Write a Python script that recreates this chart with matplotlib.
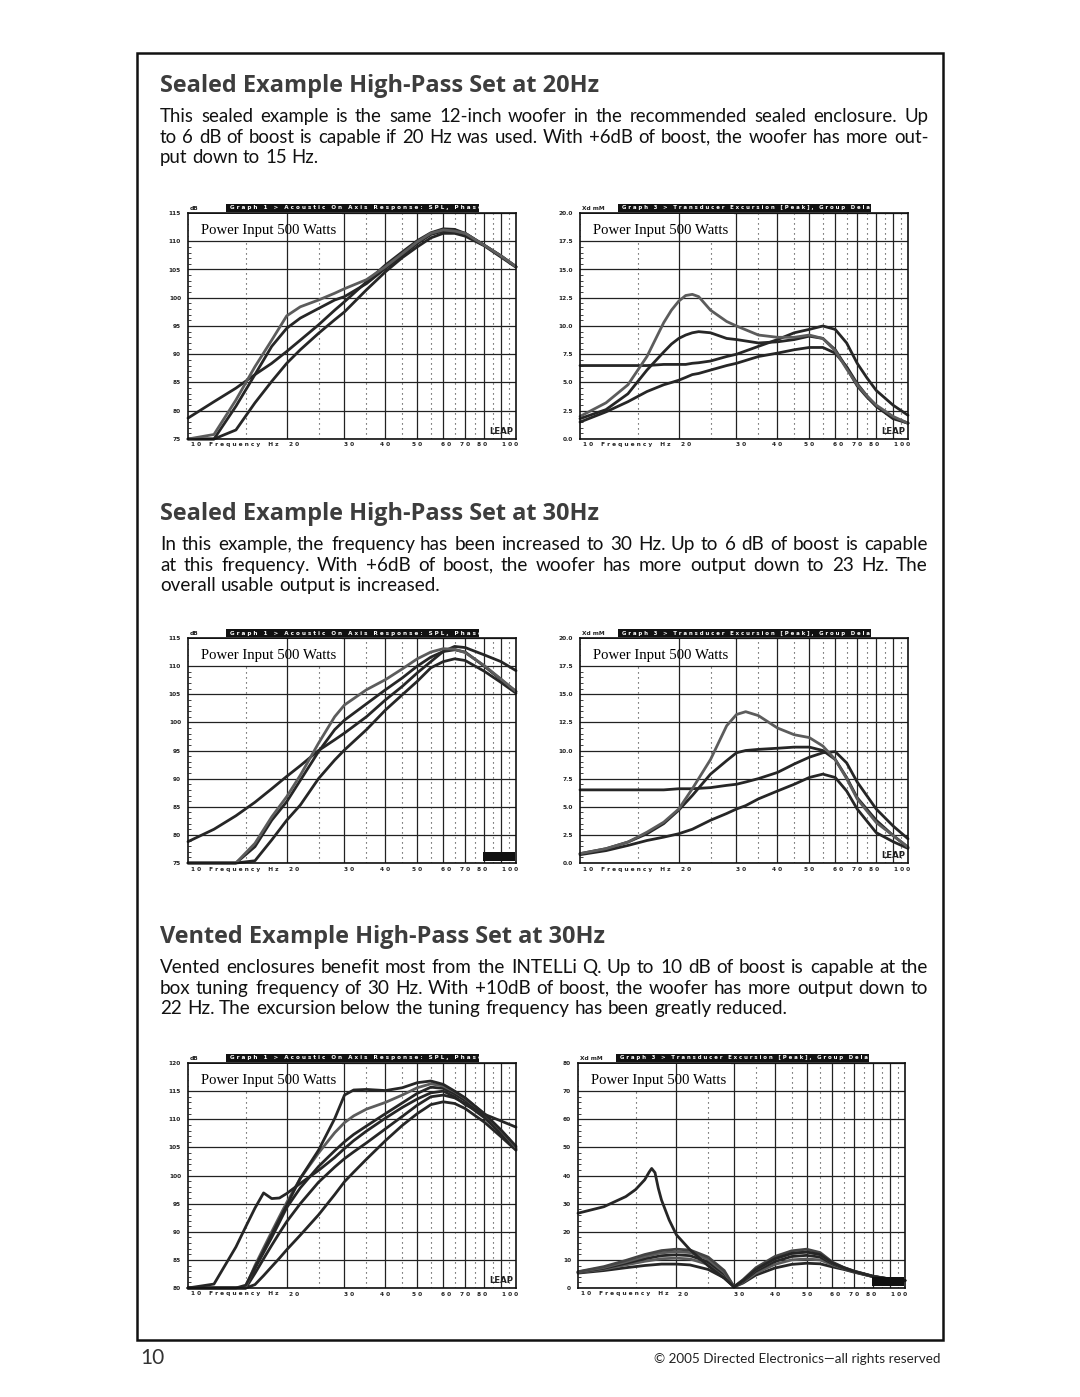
import math
import matplotlib
matplotlib.use("Agg")
import matplotlib.pyplot as plt
from matplotlib.patches import Rectangle
from matplotlib.ticker import MultipleLocator, FixedLocator, NullFormatter, StrMethodFormatter

W, H = 1080, 1397

# ---------------- page text ----------------
TITLES = [
    "Sealed Example High-Pass Set at 20Hz",
    "Sealed Example High-Pass Set at 30Hz",
    "Vented Example High-Pass Set at 30Hz",
]
PARAS = [
    ["This sealed example is the same 12-inch woofer in the recommended sealed enclosure. Up",
     "to 6 dB of boost is capable if 20 Hz was used. With +6dB of boost, the woofer has more out-",
     "put down to 15 Hz."],
    ["In this example, the frequency has been increased to 30 Hz. Up to 6 dB of boost is capable",
     "at this frequency. With +6dB of boost, the woofer has more output down to 23 Hz. The",
     "overall usable output is increased."],
    ["Vented enclosures benefit most from the INTELLi Q. Up to 10 dB of boost is capable at the",
     "box tuning frequency of 30 Hz. With +10dB of boost, the woofer has more output down to",
     "22 Hz. The excursion below the tuning frequency has been greatly reduced."],
]
PAGE_NO = "10"
COPYRIGHT = "\u00a9 2005 Directed Electronics\u2014all rights reserved"

HEADER_SPL = "Graph 1 > Acoustic On Axis Response: SPL, Phase"
HEADER_XD = "Graph 3 > Transducer Excursion [Peak], Group Delay"

XGRID_MAJOR = [20, 30, 40, 50, 60, 70, 80, 90]
XGRID_MINOR = [15, 25, 35, 45, 55, 65, 75, 85, 95]
XLAB_F = [21, 31, 40, 50, 61, 70, 79, 96]
XLAB_T = ["20", "30", "40", "50", "60", "70", "80", "100"]

# ---------------- data ----------------
FREQ = [10, 12, 14, 16, 18, 20, 22, 25, 28, 30, 35, 40, 45, 50, 55, 60, 65, 70, 80, 90, 100]

# graph 1: sealed, HP 20 Hz, SPL dB
g1_a = [78.7, 81.6, 84.0, 86.4, 88.4, 90.5, 92.5, 95.2, 97.8, 99.3, 102.8, 105.8, 108.1, 110.1, 111.5, 112.2, 112.1, 111.4, 109.3, 107.4, 105.5]
g1_b = [75, 75.8, 81.9, 87.8, 92.5, 96.8, 98.4, 99.6, 100.8, 101.6, 103.2, 105.5, 107.8, 109.9, 111.4, 112.0, 111.8, 111.4, 109.3, 107.4, 105.5]
g1_c = [75, 75, 80.8, 86.4, 91.4, 94.6, 96.4, 98.1, 99.6, 100.2, 102.5, 105.2, 107.5, 109.6, 111.2, 111.8, 111.7, 111.4, 109.3, 107.4, 105.5]
g1_d = [75, 75, 76.6, 81.4, 85.2, 88.4, 90.8, 93.7, 96.1, 97.5, 101.4, 104.6, 107.1, 109.0, 110.6, 111.4, 111.4, 110.9, 109.2, 107.2, 105.4]

# graph 2: sealed, HP 20 Hz, excursion mm
FREQ2 = [10, 12, 14, 16, 18, 19, 20, 21, 22, 23, 25, 28, 30, 35, 40, 45, 50, 55, 60, 65, 70, 75, 80, 90, 100]
g2_e = [2.0, 3.2, 4.8, 7.3, 10.3, 11.4, 12.2, 12.7, 12.8, 12.6, 11.4, 10.4, 10.0, 9.2, 9.0, 9.0, 9.2, 8.9, 7.8, 6.2, 4.8, 3.8, 3.0, 2.0, 1.4]
g2_f = [1.8, 2.6, 4.0, 6.1, 7.7, 8.4, 8.9, 9.2, 9.4, 9.5, 9.4, 8.9, 8.8, 8.5, 8.6, 8.8, 9.1, 8.9, 7.9, 6.3, 4.7, 3.7, 2.9, 1.9, 1.4]
g2_g = [6.5, 6.5, 6.5, 6.5, 6.6, 6.6, 6.6, 6.6, 6.7, 6.75, 6.9, 7.3, 7.5, 8.2, 8.8, 9.4, 9.7, 10.0, 9.7, 8.5, 6.7, 5.4, 4.3, 3.0, 2.1]
g2_h = [1.5, 2.4, 3.3, 4.2, 4.8, 5.0, 5.2, 5.45, 5.7, 5.8, 6.1, 6.5, 6.7, 7.3, 7.6, 7.9, 8.1, 8.1, 7.6, 6.4, 4.9, 3.8, 2.9, 1.8, 1.4]

# graph 3: sealed, HP 30 Hz, SPL dB
g3_a = [78.8, 81.0, 83.4, 85.8, 88.2, 90.4, 92.3, 95.0, 96.9, 98.1, 101.0, 104.0, 106.4, 108.8, 110.8, 112.6, 113.5, 113.3, 112.0, 110.8, 109.2]
g3_b = [75, 75, 75, 78.5, 83.2, 86.8, 90.6, 96.3, 101.0, 103.1, 105.8, 107.6, 109.5, 111.3, 112.5, 113.1, 113.0, 112.4, 110.1, 107.7, 105.5]
g3_c = [75, 75, 75, 77.9, 82.6, 85.9, 89.7, 94.8, 98.7, 100.4, 103.3, 105.8, 107.9, 110.0, 111.6, 112.6, 112.9, 112.5, 110.0, 107.6, 105.5]
g3_d = [75, 75, 75, 75.4, 79.1, 82.6, 85.3, 90.0, 93.3, 95.1, 98.7, 102.2, 104.9, 107.3, 109.7, 110.8, 111.3, 111.0, 109.1, 107.1, 105.2]

# graph 4: sealed, HP 30 Hz, excursion mm
FREQ4 = [10, 12, 14, 16, 18, 20, 22, 25, 28, 30, 32, 35, 40, 45, 50, 55, 60, 65, 70, 80, 90, 100]
g4_e = [0.83, 1.27, 1.86, 2.74, 3.63, 4.8, 6.6, 9.2, 12.2, 13.2, 13.45, 13.1, 12.0, 11.4, 11.15, 10.4, 9.2, 7.5, 5.7, 3.6, 2.45, 1.4]
g4_f = [0.83, 1.27, 1.86, 2.6, 3.5, 4.7, 6.0, 7.9, 9.1, 9.8, 10.0, 10.1, 10.2, 10.3, 10.3, 10.0, 9.2, 7.6, 5.8, 3.8, 2.45, 1.4]
g4_g = [6.5, 6.5, 6.5, 6.5, 6.5, 6.6, 6.6, 6.7, 6.9, 7.0, 7.2, 7.5, 8.05, 8.8, 9.4, 9.8, 9.9, 8.9, 7.2, 4.8, 3.3, 2.15]
g4_h = [0.74, 1.1, 1.56, 2.0, 2.3, 2.6, 3.0, 3.8, 4.4, 4.8, 5.1, 5.7, 6.4, 7.0, 7.6, 7.9, 7.6, 6.4, 4.8, 2.7, 1.9, 1.3]

# graph 5: vented, HP 30 Hz, SPL dB
FREQ5 = [10, 12, 14, 15, 16, 17, 18, 19, 20, 22, 25, 28, 30, 32, 35, 40, 45, 50, 55, 60, 65, 70, 80, 90, 100]
g5_bump = [80, 80.7, 87.3, 90.9, 94.2, 96.9, 95.9, 96.0, 96.8, 98.6, 100.9, 103.2, 104.8, 106.2, 107.9, 110.2, 112.1, 113.6, 114.7, 115.0, 114.0, 112.6, 110.9, 109.7, 108.6]
g5_plat = [80, 80, 80, 80.5, 83.7, 86.6, 89.5, 92.2, 94.7, 99.5, 104.5, 110.1, 114.3, 115.2, 115.3, 115.1, 115.6, 116.5, 116.8, 116.2, 115.0, 113.8, 111.0, 108.1, 105.2]
g5_gray = [80, 80, 80, 80.2, 84.0, 87.1, 90.0, 92.7, 95.2, 99.5, 104.0, 107.6, 109.4, 110.6, 111.8, 113.0, 114.3, 115.6, 116.3, 115.9, 114.9, 113.7, 111.0, 108.0, 105.0]
g5_c = [80, 80, 80, 80, 83.5, 86.3, 89.0, 91.7, 94.3, 97.8, 101.6, 104.4, 106.0, 107.3, 108.8, 111.0, 112.9, 114.6, 115.7, 115.5, 114.5, 113.3, 110.6, 107.7, 104.8]
g5_d = [80, 80, 80, 80, 82.6, 85.2, 87.6, 89.8, 91.8, 95.0, 98.8, 101.5, 103.0, 104.2, 105.8, 108.3, 110.5, 112.5, 114.0, 114.3, 113.8, 112.8, 110.3, 107.4, 104.6]
g5_low = [80, 80, 80, 80, 80.6, 82.2, 83.8, 85.3, 86.8, 89.4, 93.0, 96.6, 98.9, 100.6, 102.9, 106.2, 108.9, 111.0, 112.6, 113.1, 112.8, 111.9, 109.5, 106.9, 104.5]

# graph 6: vented, HP 30 Hz, excursion mm
FREQ6 = [10, 12, 14, 16, 18, 20, 22, 25, 28, 30, 32, 35, 40, 45, 50, 55, 60, 65, 70, 80, 90, 100]
g6_s1 = [5.8, 7.6, 9.8, 11.9, 13.3, 13.8, 13.5, 11.0, 6.2, 0.4, 3.0, 7.2, 11.2, 13.2, 13.8, 12.6, 9.2, 7.3, 6.0, 4.2, 3.2, 2.7]
g6_s2 = [5.7, 7.3, 9.3, 11.2, 12.5, 12.9, 12.6, 10.2, 5.6, 0.4, 2.7, 6.6, 10.4, 12.3, 12.8, 11.9, 8.9, 7.2, 5.9, 4.1, 3.2, 2.7]
g6_s3 = [5.6, 7.0, 8.8, 10.4, 11.5, 11.8, 11.5, 9.3, 5.0, 0.4, 2.4, 6.0, 9.4, 11.2, 11.6, 11.0, 8.6, 7.0, 5.8, 4.1, 3.1, 2.6]
g6_s4 = [5.5, 6.7, 8.2, 9.5, 10.4, 10.6, 10.3, 8.4, 4.6, 0.4, 2.1, 5.3, 8.4, 10.0, 10.3, 10.0, 8.2, 6.9, 5.7, 4.0, 3.1, 2.6]
g6_s5 = [5.3, 6.2, 7.2, 8.0, 8.5, 8.5, 8.2, 6.6, 3.6, 0.4, 1.8, 4.6, 7.1, 8.4, 8.8, 8.6, 7.5, 6.6, 5.6, 4.0, 3.0, 2.6]
FREQ6_BIG = [10, 12, 14, 15, 16, 16.5, 16.8, 17.2, 17.6, 18, 19, 20, 22, 25, 28, 30, 32, 35, 40, 45, 50, 55, 60, 65, 70, 80, 90, 100]
g6_big = [26.6, 28.9, 32.5, 35.0, 38.5, 41.2, 42.5, 41.0, 35.5, 31.3, 24.2, 18.9, 13.6, 7.9, 3.5, 0.4, 2.7, 6.6, 10.4, 12.3, 12.8, 11.9, 8.9, 7.2, 5.9, 4.1, 3.2, 2.7]

BLACK = "#262626"
GRAY = "#5c5c5c"
BODY_FONT = "Lato"
TITLE_FONT = "Open Sans"

fig = plt.figure(figsize=(W / 100, H / 100), dpi=100)
fig.patch.set_facecolor("white")
renderer = fig.canvas.get_renderer()


def fx(x):
    return x / W


def fy(y):
    return 1 - y / H


def width_of(t):
    return t.get_window_extent(renderer).width


def spaced(s):
    return " ".join(s)


# ---------------- page frame + text ----------------
fig.add_artist(Rectangle((fx(137), fy(1340)), (943 - 137) / W, (1340 - 53) / H,
                         transform=fig.transFigure, fill=False, edgecolor="#111", lw=1.8))

BODY_L, BODY_R = 160, 928
TITLE_Y = [92, 520, 943]
LINE_DY = [30, 51, 71]
BASE_SIZE = 13.6

# title size fitted to first heading width
tprobe = fig.text(0, 0, TITLES[0], fontsize=16, family=TITLE_FONT, weight="bold")
title_size = round(16 * 440 / width_of(tprobe), 1)
tprobe.remove()

probe = fig.text(0, 0, "x", fontsize=BASE_SIZE, family=BODY_FONT)
for k, (title, para) in enumerate(zip(TITLES, PARAS)):
    ty = TITLE_Y[k]
    fig.text(fx(BODY_L), fy(ty), title, fontsize=title_size, family=TITLE_FONT,
             weight="bold", color="#3d3d3d", va="baseline")

    # paragraph size: widest justified line must still fit
    probe.set_fontsize(BASE_SIZE)
    factor = 1.0
    for line in para[:-1]:
        probe.set_text(line)
        factor = min(factor, (BODY_R - BODY_L) * 0.99 / width_of(probe))
    size = round(BASE_SIZE * factor, 1)
    probe.set_fontsize(size)
    probe.set_text("a a")
    w_aa = width_of(probe)
    probe.set_text("aa")
    space_w = w_aa - width_of(probe)

    for j, line in enumerate(para):
        y = ty + LINE_DY[j]
        words = line.split()
        objs = [fig.text(0, fy(y), w, fontsize=size, family=BODY_FONT,
                         color="#111111", va="baseline") for w in words]
        widths = [width_of(o) for o in objs]
        if j == len(para) - 1:
            gap = space_w
        else:
            gap = (BODY_R - BODY_L - sum(widths)) / (len(words) - 1)
        x = BODY_L
        for o, w, word in zip(objs, widths, words):
            # keep every word on the same pixel baseline (Agg rounds by descent)
            d = renderer.get_text_width_height_descent(word, o.get_fontproperties(), False)[2]
            o.set_position((fx(round(x)), fy(y + math.floor(d) - d + 0.2)))
            x += w + gap
probe.remove()

fig.text(fx(140), fy(1364), PAGE_NO, fontsize=15, family=BODY_FONT,
         color="#333", va="baseline")
cp = fig.text(fx(941), fy(1363), COPYRIGHT, fontsize=10, family=BODY_FONT,
              color="#222", va="baseline", ha="right")
cp.set_fontsize(round(10 * 284 / width_of(cp), 1))


# ---------------- graphs ----------------
def make_graph(l, t, r, b, ylo, yhi, step, fmt, unit, header, logo_box=False):
    ax = fig.add_axes([fx(l), fy(b), (r - l) / W, (b - t) / H])
    aw, ah = r - l, b - t
    ax.set_xscale("log")
    ax.set_xlim(10, 100)
    ax.set_ylim(ylo, yhi)
    ax.xaxis.set_major_locator(FixedLocator(XGRID_MAJOR))
    ax.xaxis.set_minor_locator(FixedLocator(XGRID_MINOR))
    ax.xaxis.set_major_formatter(NullFormatter())
    ax.xaxis.set_minor_formatter(NullFormatter())
    ax.tick_params(axis="x", which="both", length=0)
    ax.yaxis.set_major_locator(MultipleLocator(step))
    ax.yaxis.set_minor_locator(MultipleLocator(step / 5))
    ax.yaxis.set_major_formatter(StrMethodFormatter(fmt))
    ax.tick_params(axis="y", which="major", length=0, labelsize=4.2, pad=5, labelcolor="#222")
    ax.tick_params(axis="y", which="minor", direction="in", length=2.5, width=0.6, color="#222")
    for lab in ax.get_yticklabels():
        lab.set_fontweight("bold")
    ax.set_axisbelow(True)
    ax.grid(True, which="minor", axis="x", color="#333", lw=0.8, ls=(0, (1, 3.5)))
    ax.grid(True, which="major", axis="y", color="#222", lw=0.9)
    for f in XGRID_MAJOR:
        ax.axvline(f, color="#222", lw=0.9, zorder=1.5)
    for s in ax.spines.values():
        s.set_linewidth(1.2)
        s.set_color("#111")
        s.set_zorder(5)

    # white label patch with "Power Input"
    ax.add_patch(Rectangle((0.004, 1 - 27 / ah), 0.465, 27 / ah - 0.004, transform=ax.transAxes,
                           facecolor="white", edgecolor="none", zorder=1))
    ax.text(13 / aw, 1 - 21 / ah, "Power Input 500 Watts", transform=ax.transAxes,
            family="Liberation Serif", fontsize=10.6, va="baseline", zorder=1.6)

    # black header bar
    bx0 = 38 / aw
    bx1 = 291 / aw
    ax.add_patch(Rectangle((bx0, 1 + 1 / ah), bx1 - bx0, 8 / ah, transform=ax.transAxes,
                           facecolor="#111", edgecolor="none", clip_on=False))
    ht = ax.text(bx0 + 4 / aw, 1 + 5 / ah, spaced(header), transform=ax.transAxes,
                 color="white", fontsize=4.5, weight="bold", va="center", ha="left",
                 family="DejaVu Sans")
    ht.set_fontsize(round(4.5 * (bx1 - bx0 - 5 / aw) * aw / width_of(ht), 2))
    ax.text(2 / aw, 1 + 5 / ah, unit, transform=ax.transAxes, fontsize=4.2, weight="bold",
            va="center", ha="left", color="#222")

    # x labels
    trans = ax.get_xaxis_transform()
    ax.text(10.2, -6 / ah, spaced("10") + "    " + spaced("Frequency") + "    " + spaced("Hz"),
            transform=trans, fontsize=4.2, weight="bold", va="center", ha="left", color="#222")
    for f, t_ in zip(XLAB_F, XLAB_T):
        ax.text(f, -6 / ah, spaced(t_), transform=trans, fontsize=4.2, weight="bold",
                va="center", ha="center", color="#222")

    # LEAP logo
    if logo_box:
        ax.add_patch(Rectangle((0.9, 0.008), 0.097, 0.04, transform=ax.transAxes,
                               facecolor="#111", edgecolor="none", zorder=4))
    else:
        ax.text(0.992, 0.012, "LEAP", transform=ax.transAxes, fontsize=6.2, weight="bold",
                ha="right", va="bottom", color="#222", zorder=4, family="DejaVu Sans")
    return ax


def curve(ax, f, v, color):
    ax.plot(f, v, color=color, lw=2.0, solid_capstyle="round", solid_joinstyle="round",
            zorder=3, clip_on=False)


LX = (188, 516)
RX = (580, 908)
ROWS = [(213, 439), (638, 863), (1063, 1288)]

ax1 = make_graph(LX[0], ROWS[0][0], LX[1], ROWS[0][1], 75, 115, 5, "{x:.0f}", "dB", HEADER_SPL)
for v, c in [(g1_d, BLACK), (g1_a, BLACK), (g1_c, BLACK), (g1_b, GRAY)]:
    curve(ax1, FREQ, v, c)

ax2 = make_graph(RX[0], ROWS[0][0], RX[1], ROWS[0][1], 0, 20, 2.5, "{x:.1f}", "Xd mM", HEADER_XD)
for v, c in [(g2_h, BLACK), (g2_g, BLACK), (g2_f, BLACK), (g2_e, GRAY)]:
    curve(ax2, FREQ2, v, c)

ax3 = make_graph(LX[0], ROWS[1][0], LX[1], ROWS[1][1], 75, 115, 5, "{x:.0f}", "dB", HEADER_SPL,
                 logo_box=True)
for v, c in [(g3_d, BLACK), (g3_a, BLACK), (g3_c, BLACK), (g3_b, GRAY)]:
    curve(ax3, FREQ, v, c)

ax4 = make_graph(RX[0], ROWS[1][0], RX[1], ROWS[1][1], 0, 20, 2.5, "{x:.1f}", "Xd mM", HEADER_XD)
for v, c in [(g4_h, BLACK), (g4_g, BLACK), (g4_f, BLACK), (g4_e, GRAY)]:
    curve(ax4, FREQ4, v, c)

ax5 = make_graph(LX[0], ROWS[2][0], LX[1], ROWS[2][1], 80, 120, 5, "{x:.0f}", "dB", HEADER_SPL)
for v, c in [(g5_low, BLACK), (g5_d, BLACK), (g5_c, BLACK), (g5_gray, GRAY),
             (g5_plat, BLACK), (g5_bump, BLACK)]:
    curve(ax5, FREQ5, v, c)

ax6 = make_graph(RX[0] - 2, ROWS[2][0], RX[1] - 3, ROWS[2][1], 0, 80, 10, "{x:.0f}", "Xd mM",
                 HEADER_XD, logo_box=True)
for v, c in [(g6_s5, BLACK), (g6_s4, GRAY), (g6_s3, BLACK), (g6_s2, GRAY), (g6_s1, "#444")]:
    curve(ax6, FREQ6, v, c)
curve(ax6, FREQ6_BIG, g6_big, BLACK)

fig.savefig("out.png", dpi=100, facecolor="white")
